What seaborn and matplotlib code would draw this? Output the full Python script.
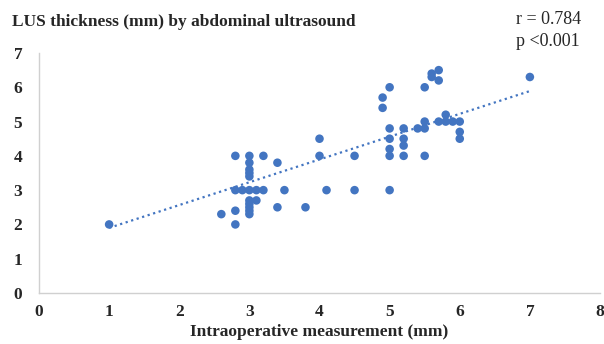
import numpy as np
import pandas as pd
import matplotlib.pyplot as plt
import seaborn as sns

# values
intraop = [1.0,
           2.6, 2.8, 2.8, 2.8, 2.8, 2.9,
           3.0, 3.0, 3.0, 3.0, 3.0, 3.0, 3.0, 3.0, 3.0, 3.0, 3.0,
           3.1, 3.1, 3.2, 3.2, 3.4, 3.4, 3.5, 3.8,
           4.0, 4.0, 4.1, 4.5, 4.5,
           4.9, 4.9, 5.0, 5.0, 5.0, 5.0, 5.0, 5.0,
           5.2, 5.2, 5.2, 5.2, 5.4, 5.5, 5.5, 5.5, 5.5,
           5.6, 5.6, 5.7, 5.7, 5.7, 5.8, 5.8, 5.9,
           6.0, 6.0, 6.0, 7.0]
ultrasound = [2.0,
              2.3, 2.0, 2.4, 3.0, 4.0, 3.0,
              4.0, 3.8, 3.6, 3.5, 3.0, 2.7, 2.6, 2.5, 2.4, 2.3, 3.4,
              3.0, 2.7, 3.0, 4.0, 3.8, 2.5, 3.0, 2.5,
              4.0, 4.5, 3.0, 3.0, 4.0,
              5.7, 5.4, 6.0, 4.8, 4.5, 4.2, 4.0, 3.0,
              4.8, 4.5, 4.3, 4.0, 4.8, 4.8, 5.0, 4.0, 6.0,
              6.4, 6.3, 6.5, 6.2, 5.0, 5.2, 5.0, 5.0,
              5.0, 4.7, 4.5, 6.3]

# trend line end points as drawn in the reference
trend_x = [1.0, 7.0]
trend_y = [1.90, 5.89]

df = pd.DataFrame({"intraop": intraop, "ultrasound": ultrasound})
trend = pd.DataFrame({"x": trend_x, "y": trend_y})

sns.set_style("white")
plt.rcParams['font.family'] = ['Liberation Serif', 'DejaVu Serif']

fig = plt.figure(figsize=(6.04, 3.44), dpi=100)
ax = fig.add_axes([39 / 604, 51 / 344, 561 / 604, 240 / 344])

blue = "#4375C1"
sns.scatterplot(data=df, x="intraop", y="ultrasound", ax=ax, color=blue,
                s=38, edgecolor="none", zorder=3)

sns.lineplot(data=trend, x="x", y="y", ax=ax, color=blue,
             linestyle=(0, (1, 1.6)), linewidth=1.6, zorder=2)

ax.set_xlim(0, 8)
ax.set_ylim(0, 7)
ax.set_xticks(range(0, 9))
ax.set_yticks(range(0, 8))
ax.tick_params(axis="both", length=0, labelsize=12.5)
ax.tick_params(axis="x", pad=8)
ax.tick_params(axis="y", pad=12)
for lab in ax.get_xticklabels() + ax.get_yticklabels():
    lab.set_fontweight("bold")

for side in ["top", "right"]:
    ax.spines[side].set_visible(False)
for side in ["left", "bottom"]:
    ax.spines[side].set_color("#d0d0d0")
    ax.spines[side].set_linewidth(1.0)

ax.set_xlabel("Intraoperative measurement (mm)", fontsize=12.5,
              fontweight="bold", labelpad=3)
ax.set_ylabel("")

fig.text(12 / 604, 1 - 22 / 344, "LUS thickness (mm) by abdominal ultrasound",
         fontsize=12.5, fontweight="bold", va="center", ha="left")
fig.text(516 / 604, 1 - 20 / 344, "r = 0.784", fontsize=13,
         va="center", ha="left")
fig.text(516 / 604, 1 - 41 / 344, "p <0.001", fontsize=13,
         va="center", ha="left")

fig.savefig("out.png", dpi=100)
